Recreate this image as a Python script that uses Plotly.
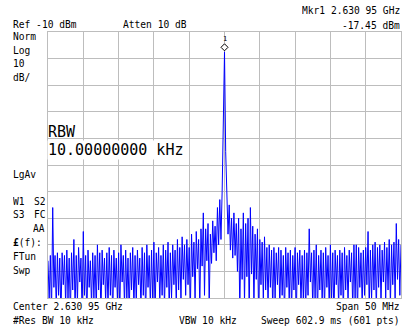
import plotly.graph_objects as go

# ---------------- data ----------------
center_ghz = 2.63095
span_ghz = 0.050
ref_dbm = -10
db_per_div = 10
n_div = 10
mkr_level = -17.45

# noise-peak samples (even sweep points) in dBm
peaks = [
    -96, -94, -76, -94, -93, -95, -93, -94, -92, -95,
    -93, -88, -94, -91, -95, -85, -94, -92, -96, -93,
    -94, -90, -93, -92, -95, -93, -91, -94, -92, -95,
    -93, -90, -94, -92, -95, -93, -91, -94, -92, -95,
    -91, -93, -90, -94, -92, -89, -93, -91, -94, -90,
    -92, -89, -93, -90, -92, -88, -91, -87, -90, -88,
    -91, -86, -89, -85, -88, -84, -78, -84, -82, -86,
    -81, -83, -76, -73, -70, -17.45, -70, -75, -80, -78,
    -82, -80, -84, -78, -82, -80, -76, -83, -86, -84,
    -88, -89, -87, -91, -90, -92, -91, -93, -91, -92,
    -94, -91, -93, -92, -94, -91, -93, -92, -94, -92,
    -93, -84, -93, -92, -90, -94, -92, -93, -91, -94,
    -90, -93, -92, -94, -92, -93, -91, -94, -92, -93,
    -90, -90, -91, -93, -92, -91, -85, -92, -90, -89,
    -91, -90, -92, -89, -91, -88, -90, -89, -82, -88,
    -90,
]

# trough samples (odd sweep points) in dBm
troughs = [
    -111, -116, -106, -114, -109, -118, -105, -113, -110, -117,
    -107, -115, -112, -104, -116, -109, -119, -106, -113, -110,
    -115, -107, -117, -105, -112, -114, -109, -118, -106, -111,
    -116, -104, -113, -110, -117, -107, -114, -112, -105, -115,
    -109, -118, -106, -113, -111, -116, -104, -112, -109, -114,
    -106, -115, -110, -105, -113, -107, -111, -103, -109, -105,
    -114, -102, -111, -99, -114, -98, -109, -96, -113, -97,
    -93, -96, -90, -88, -44, -55, -86, -92, -95, -94,
    -100, -115, -103, -112, -102, -116, -101, -113, -103, -118,
    -105, -111, -107, -113, -106, -115, -110, -105, -114, -109,
    -117, -106, -112, -115, -107, -118, -105, -113, -111, -116,
    -109, -104, -114, -110, -117, -107, -112, -115, -106, -113,
    -111, -118, -105, -114, -109, -116, -107, -112, -104, -115,
    -110, -117, -106, -113, -109, -105, -114, -111, -107, -115,
    -106, -112, -104, -110, -107, -113, -105, -111, -103, -109,
]

# -------------- build trace --------------
level = []
for k in range(len(troughs)):
    level.append(peaks[k])
    level.append(troughs[k])
level.append(peaks[-1])

n_pts = len(level)
f_start = center_ghz - span_ghz / 2
f_stop = center_ghz + span_ghz / 2
step = span_ghz / (n_pts - 1)
freq = [f_start + i * step for i in range(n_pts)]

y_top = ref_dbm
y_bot = ref_dbm - db_per_div * n_div

W, H = 402, 333
L, R, T, B = 48, 401, 32, 298

def fx(px):
    return (px - L) / (R - L)

def fy(py):
    return (B - py) / (B - T)

grid = '#bdbdbd'
FONT = 'DejaVu Sans Mono'

fig = go.Figure()
fig.add_trace(go.Scatter(x=freq, y=level, mode='lines',
                         line=dict(color='#0000ff', width=1),
                         hoverinfo='skip', showlegend=False))

fig.update_layout(
    width=W, height=H,
    margin=dict(l=L, r=W - R, t=T, b=H - B, pad=0),
    paper_bgcolor='white', plot_bgcolor='white',
    showlegend=False,
    xaxis=dict(range=[f_start, f_stop], tick0=f_start, dtick=span_ghz / n_div,
               showgrid=True, gridcolor=grid, gridwidth=1, zeroline=False,
               showticklabels=False, ticks='', showline=True, linecolor=grid,
               linewidth=1, mirror=True, fixedrange=True),
    yaxis=dict(range=[y_bot, y_top], tick0=y_bot, dtick=db_per_div,
               showgrid=True, gridcolor=grid, gridwidth=1, zeroline=False,
               showticklabels=False, ticks='', showline=True, linecolor=grid,
               linewidth=1, mirror=True, fixedrange=True),
)

# marker diamond anchored to the peak in data coords
fig.add_shape(type='path', xref='x', yref='y', xsizemode='pixel', ysizemode='pixel',
              xanchor=center_ghz, yanchor=mkr_level,
              path='M0,1 L3.5,4.5 L0,8 L-3.5,4.5 Z',
              line=dict(color='black', width=1), fillcolor='white', layer='above')

small = dict(family=FONT, size=9.6, color='black')
anns = [
    ('Ref -10 dBm', 12, 24, 'left'),
    ('Atten 10 dB', 122, 24, 'left'),
    ('Mkr1 2.630 95 GHz', 401, 10, 'right'),
    ('-17.45 dBm', 401, 25, 'right'),
    ('Norm', 12, 36, 'left'),
    ('Log', 12, 50, 'left'),
    ('10', 12, 63, 'left'),
    ('dB/', 12, 77, 'left'),
    ('LgAv', 12, 174, 'left'),
    ('W1', 12, 201, 'left'),
    ('S2', 33, 201, 'left'),
    ('S3', 12, 214, 'left'),
    ('FC', 33, 214, 'left'),
    ('AA', 32, 228, 'left'),
    ('<b>£</b>(f):', 12, 242, 'left'),
    ('FTun', 12, 256, 'left'),
    ('Swp', 12, 270, 'left'),
    ('Center 2.630 95 GHz', 12, 306, 'left'),
    ('Span 50 MHz', 401, 306, 'right'),
    ('#Res BW 10 kHz', 12, 320, 'left'),
    ('VBW 10 kHz', 178, 320, 'left'),
    ('Sweep 602.9 ms (601 pts)', 401, 320, 'right'),
]
for text, x, y, anc in anns:
    fig.add_annotation(text=text, xref='paper', yref='paper', x=fx(x), y=fy(y),
                       xanchor=anc, yanchor='middle', showarrow=False,
                       font=small, borderpad=0, height=12)

# marker number
fig.add_annotation(text='1', xref='paper', yref='paper', x=fx(224.5), y=fy(39),
                   xanchor='center', yanchor='middle', showarrow=False,
                   font=dict(family=FONT, size=7, color='black'), borderpad=0)

big = dict(family=FONT, size=15, color='black')
fig.add_annotation(text='RBW', xref='paper', yref='paper', x=fx(47), y=fy(132.4),
                   xanchor='left', yanchor='middle', showarrow=False,
                   font=big, borderpad=0)
fig.add_annotation(text='10.00000000 kHz', xref='paper', yref='paper', x=fx(47), y=fy(150.4),
                   xanchor='left', yanchor='middle', showarrow=False,
                   font=big, borderpad=0, bgcolor='white')

fig.write_html('out.html', config={'displayModeBar': False},
               post_script="document.body.style.margin='0';"
                           "document.body.style.overflow='hidden';")
